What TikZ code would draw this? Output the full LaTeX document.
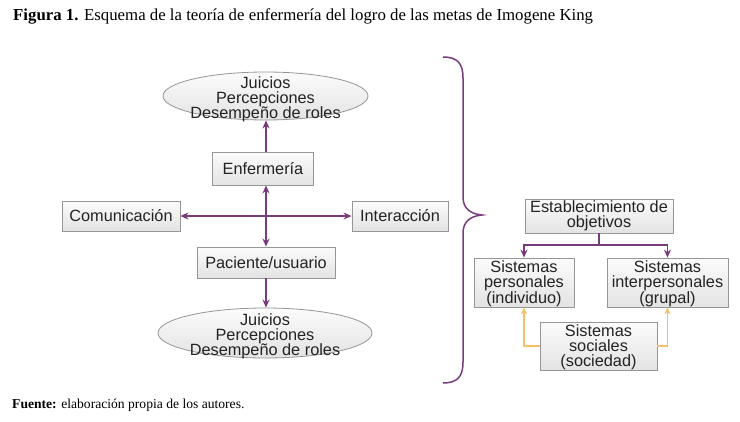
\documentclass[tikz,border=0pt]{standalone}
\usepackage{fontspec}
\setmainfont{Liberation Serif}
\newfontfamily\diag{Liberation Sans}
\usetikzlibrary{shapes.geometric,arrows.meta,calc}
\definecolor{purp}{RGB}{120,60,125}
\definecolor{orng}{RGB}{246,192,105}
\definecolor{bord}{RGB}{150,150,150}
\definecolor{txt}{RGB}{35,35,35}
\begin{document}
\begin{tikzpicture}[x=1pt,y=-1pt,
  box/.style={draw=bord, line width=0.8pt, top color=gray!3, bottom color=gray!22,
    inner sep=0pt, align=center, text=txt,
    font=\diag\fontsize{16.3}{15.2}\selectfont},
  oval/.style={draw=bord, line width=0.8pt, ellipse, top color=gray!3, bottom color=gray!22, inner sep=0pt},
  lbl/.style={inner sep=0pt, align=center, text=txt, font=\diag\fontsize{16.3}{15.2}\selectfont},
  pline/.style={draw=purp, line width=1.9pt},
  parr/.style={pline, -{Stealth[length=8pt,width=7pt]}},
  pdbl/.style={pline, {Stealth[length=8pt,width=7pt]}-{Stealth[length=8pt,width=7pt]}},
  oarr/.style={draw=orng, line width=1.9pt, -{Stealth[length=7pt,width=6pt]}}]
\useasboundingbox (0,0) rectangle (740,421);
\fill[white] (0,0) rectangle (740,421);

% caption
\node[anchor=base west, inner sep=0pt, font=\fontsize{16.8}{18}\selectfont] (cap) at (13,20)
  {\textbf{Figura 1.} Esquema de la teoría de enfermería del logro de las metas de Imogene King};
\node[anchor=base west, inner sep=0pt, font=\fontsize{13.6}{14}\selectfont] (src) at (12,408)
  {\textbf{Fuente:} elaboración propia de los autores.};

% left part
\node[oval, minimum width=205, minimum height=48] (top) at (265.5,96) {};
\node[lbl] (toptxt) at (265.5,99) {Juicios\\Percepciones\\Desempeño de roles};
\node[box, minimum width=101, minimum height=33] (enf) at (263,168.5) {Enfermería};
\node[box, minimum width=118, minimum height=30] (com) at (121,216) {Comunicación};
\node[box, minimum width=96, minimum height=30] (int) at (400,216) {Interacción};
\node[box, minimum width=138, minimum height=31] (pac) at (266,262.5) {Paciente/usuario};
\node[oval, minimum width=214, minimum height=50] (bot) at (265,333) {};
\node[lbl] (bottxt) at (265,336.5) {Juicios\\Percepciones\\Desempeño de roles};
\coordinate (c) at (266,216);

\draw[parr] (c |- enf.north) -- (c |- top.south);
\draw[pdbl] (c |- enf.south) -- (c |- pac.north);
\draw[pdbl] (com.east) -- (int.west);
\draw[parr] (c |- pac.south) -- (c |- bot.north);

% brace
\draw[purp, line width=1.5pt] (443,57) .. controls (458,57) and (463,64) .. (463,78)
  -- (463,197) .. controls (463,208) and (470,214) .. (482,215)
  .. controls (470,216) and (463,222) .. (463,233)
  -- (463,362) .. controls (463,376) and (458,383) .. (443,383);

% right part
\node[box, minimum width=148, minimum height=34] (est) at (599,216) {Establecimiento de\\objetivos};
\node[box, minimum width=100, minimum height=49] (per) at (524,282.5) {\rule{0pt}{14pt}Sistemas\\personales\\(individuo)};
\node[box, minimum width=121, minimum height=49] (ipe) at (667.5,282.5) {\rule{0pt}{14pt}Sistemas\\interpersonales\\(grupal)};
\node[box, minimum width=117, minimum height=48] (soc) at (598.5,346) {\rule{0pt}{14pt}Sistemas\\sociales\\(sociedad)};

\coordinate (j) at ($(est.south)+(0,12)$);
\draw[pline] (est.south) -- (j);
\draw[parr] (j) -| (per.north);
\draw[parr] (j) -| (ipe.north);
\draw[oarr] (soc.west) -| (per.south);
\draw[oarr] (soc.east) -| (ipe.south);
\end{tikzpicture}
\end{document}
